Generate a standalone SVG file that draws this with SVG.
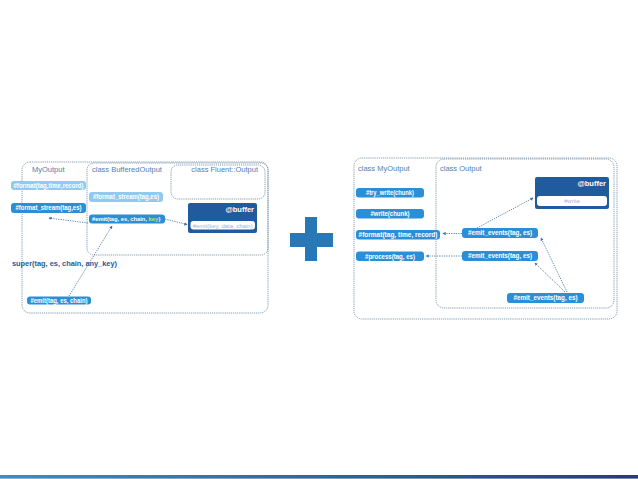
<svg xmlns="http://www.w3.org/2000/svg" width="638" height="479" viewBox="0 0 638 479">
<defs>
<style>
.frame{fill:none;stroke:#6f8ba6;stroke-width:0.85;stroke-dasharray:1.2 0.9}
.pill{fill:#2b8fd8}
.lpill{fill:#8fcaf0}
.ptxt{font-family:"Liberation Sans",Arial,sans-serif;font-size:6.3px;font-weight:bold;fill:#ffffff;text-anchor:middle}
.ptxs{font-family:"Liberation Sans",Arial,sans-serif;font-size:5.75px;font-weight:bold;fill:#ffffff}
.lbl{font-family:"Liberation Sans",Arial,sans-serif;font-size:7.5px;fill:#4f82b3}
.buf{fill:#1f5b9d}
.buftxt{font-family:"Liberation Sans",Arial,sans-serif;font-size:7.5px;font-weight:bold;fill:#ffffff;text-anchor:end}
.wtxt{font-family:"Liberation Sans",Arial,sans-serif;font-size:6px;fill:#9db8d2;text-anchor:middle}
.conn{fill:none;stroke:#3e6e9a;stroke-width:0.8;stroke-dasharray:1.3 1.1}
</style>
<marker id="ah" viewBox="0 0 6 6" refX="5" refY="3" markerWidth="4" markerHeight="4" orient="auto">
<path d="M0,0 L6,3 L0,6 z" fill="#3e6e9a"/>
</marker>
<linearGradient id="bar" x1="0" y1="0" x2="1" y2="0">
<stop offset="0" stop-color="#3a8fc8"/>
<stop offset="1" stop-color="#2c3c6c"/>
</linearGradient>
<linearGradient id="bar2" x1="0" y1="0" x2="1" y2="0">
<stop offset="0" stop-color="#74bde8"/>
<stop offset="1" stop-color="#7088bb"/>
</linearGradient>
</defs>

<!-- Left panel frames -->
<g id="left-myoutput">
<rect class="frame" x="22" y="162" width="246" height="151" rx="8"/>
<text class="lbl" x="32" y="172">MyOutput</text>
</g>
<g id="left-bufferedoutput">
<rect class="frame" x="87" y="163" width="181" height="92" rx="7"/>
<text class="lbl" x="92" y="172">class BufferedOutput</text>
</g>
<g id="left-fluentoutput">
<rect class="frame" x="171" y="165" width="94" height="34" rx="7"/>
<text class="lbl" x="258" y="172" text-anchor="end">class Fluent::Output</text>
</g>

<g id="n-format-ttr">
<rect class="lpill" x="11" y="181" width="75" height="9" rx="3"/>
<text class="ptxt" x="48.5" y="187.7" textLength="70" lengthAdjust="spacingAndGlyphs">#format(tag,time,record)</text>
</g>
<g id="n-format-stream-left">
<rect class="pill" x="11" y="203" width="75" height="10" rx="3"/>
<text class="ptxt" x="48.5" y="210.3" textLength="66" lengthAdjust="spacingAndGlyphs">#format_stream(tag,es)</text>
</g>
<g id="n-format-stream-buf">
<rect class="lpill" x="89" y="192" width="74" height="10" rx="3"/>
<text class="ptxt" x="126" y="199.3" textLength="66" lengthAdjust="spacingAndGlyphs">#format_stream(tag,es)</text>
</g>
<g id="n-emit-key">
<rect class="pill" x="89" y="214.5" width="76" height="9" rx="3"/>
<text class="ptxs" x="92" y="221">#emit(tag, es, chain,</text>
<text class="ptxs" x="148.6" y="221" style="fill:#c9e24a">key</text>
<text class="ptxs" x="158.6" y="221">)</text>
</g>
<g id="n-buffer-left">
<rect class="buf" x="188" y="203" width="69" height="30" rx="2"/>
<text class="buftxt" x="254" y="212">@buffer</text>
<rect x="190.5" y="221" width="64.5" height="8.5" rx="3" fill="#ffffff"/>
<text class="wtxt" x="222.7" y="227.5" textLength="60" lengthAdjust="spacingAndGlyphs">#emit(key, data, chain)</text>
</g>
<g id="t-super">
<text x="12" y="266" font-family="'Liberation Sans',Arial,sans-serif" font-size="7.6" font-weight="bold" fill="#1f5b9d" textLength="105" lengthAdjust="spacingAndGlyphs">super(tag, es, chain, any_key)</text>
</g>
<g id="n-emit-chain">
<rect class="pill" x="27" y="296.5" width="64" height="8" rx="3"/>
<text class="ptxt" x="59" y="302.8" textLength="57" lengthAdjust="spacingAndGlyphs">#emit(tag, es, chain)</text>
</g>

<!-- Plus sign -->
<g id="plus">
<rect x="305" y="217" width="12" height="44" fill="#2878b5"/>
<rect x="290" y="233" width="43" height="14" fill="#2878b5"/>
</g>

<!-- Right panel -->
<g id="right-myoutput">
<rect class="frame" x="354" y="158" width="263" height="161" rx="8"/>
<text class="lbl" x="358" y="171">class MyOutput</text>
</g>
<g id="right-output">
<rect class="frame" x="436" y="159" width="178" height="149" rx="8"/>
<text class="lbl" x="440" y="171">class Output</text>
</g>
<g id="n-try-write">
<rect class="pill" x="356" y="188" width="68" height="9.5" rx="3"/>
<text class="ptxt" x="390" y="195" textLength="48" lengthAdjust="spacingAndGlyphs">#try_write(chunk)</text>
</g>
<g id="n-write">
<rect class="pill" x="356" y="209" width="68" height="9.5" rx="3"/>
<text class="ptxt" x="390" y="216" textLength="39" lengthAdjust="spacingAndGlyphs">#write(chunk)</text>
</g>
<g id="n-format-right">
<rect class="pill" x="356" y="230" width="84" height="9.5" rx="3"/>
<text class="ptxt" x="398" y="237" textLength="79" lengthAdjust="spacingAndGlyphs">#format(tag, time, record)</text>
</g>
<g id="n-process">
<rect class="pill" x="356" y="251.5" width="68" height="9.5" rx="3"/>
<text class="ptxt" x="390" y="258.5" textLength="50" lengthAdjust="spacingAndGlyphs">#process(tag, es)</text>
</g>
<g id="n-emit-events-1">
<rect class="pill" x="462" y="228" width="76" height="10" rx="3"/>
<text class="ptxt" x="500" y="235.3" textLength="64" lengthAdjust="spacingAndGlyphs">#emit_events(tag, es)</text>
</g>
<g id="n-emit-events-2">
<rect class="pill" x="462" y="251" width="76" height="10" rx="3"/>
<text class="ptxt" x="500" y="258.3" textLength="64" lengthAdjust="spacingAndGlyphs">#emit_events(tag, es)</text>
</g>
<g id="n-emit-events-3">
<rect class="pill" x="507" y="293" width="77" height="10" rx="3"/>
<text class="ptxt" x="545.5" y="300.3" textLength="64" lengthAdjust="spacingAndGlyphs">#emit_events(tag, es)</text>
</g>
<g id="n-buffer-right">
<rect class="buf" x="535" y="177" width="74" height="32" rx="2"/>
<text class="buftxt" x="606" y="186">@buffer</text>
<rect x="537" y="196" width="70" height="10" rx="3" fill="#ffffff"/>
<text class="wtxt" x="572" y="203">#write</text>
</g>

<!-- Connectors -->
<g id="connectors">
<line class="conn" x1="88" y1="223" x2="49" y2="218" marker-end="url(#ah)"/>
<line class="conn" x1="69" y1="296" x2="112" y2="226" marker-end="url(#ah)"/>
<line class="conn" x1="165" y1="219" x2="187" y2="224.5" marker-end="url(#ah)"/>
<line class="conn" x1="462" y1="233.5" x2="443" y2="233.5" marker-end="url(#ah)"/>
<line class="conn" x1="462" y1="256" x2="426" y2="256" marker-end="url(#ah)"/>
<line class="conn" x1="477" y1="228" x2="533" y2="198" marker-end="url(#ah)"/>
<line class="conn" x1="567" y1="292" x2="541" y2="238" marker-end="url(#ah)"/>
<line class="conn" x1="565" y1="292" x2="535" y2="263" marker-end="url(#ah)"/>
</g>

<!-- Bottom bar -->
<rect x="0" y="475" width="638" height="3" fill="url(#bar)"/>
<rect x="0" y="478" width="638" height="1" fill="url(#bar2)"/>
</svg>
